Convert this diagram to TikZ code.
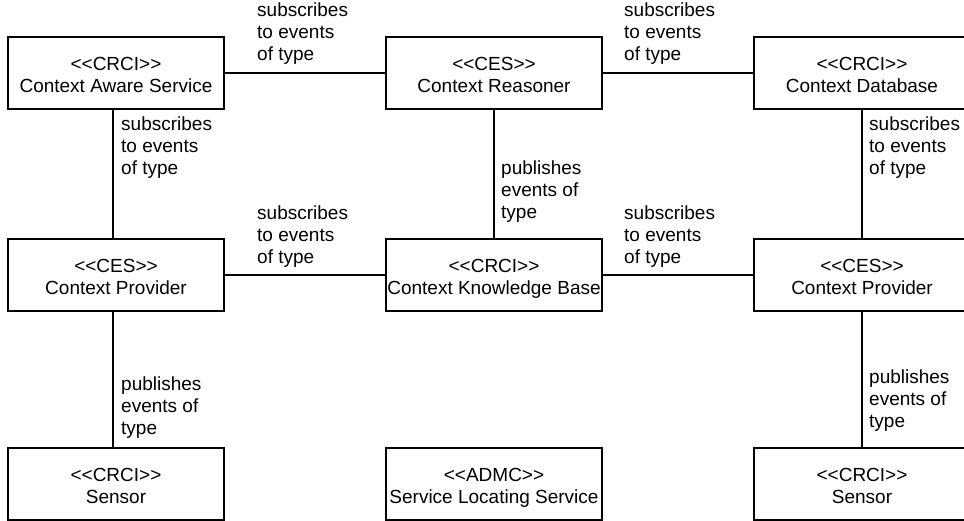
\documentclass[tikz,border=0pt]{standalone}
\usepackage{fontspec}
\setmainfont{Liberation Sans}
% struts that fix the first baseline and the last depth of a box's text
\newcommand\topstrut{\rule{0pt}{22pt}}
\newcommand\botstrut{\rule[-4.6pt]{0pt}{4.6pt}}
% stereotype guillemets written as doubled angle brackets
\newcommand\stereo[1]{<{}<#1>{}>}
\begin{document}
\begin{tikzpicture}[x=1pt,y=-1pt,
  every node/.style={font=\fontsize{19}{22}\selectfont},
  comp/.style={draw,line width=1.2pt,minimum width=216pt,minimum height=72pt,
    inner sep=0pt,align=center},
  rel/.style={anchor=north west,inner sep=0pt,align=left},
  link/.style={line width=1.2pt}]
\useasboundingbox (0,0) rectangle (964,520);

% components
\node[comp] (cas)  at (116,73)  {\topstrut\stereo{CRCI}\\Context Aware Service\botstrut};
\node[comp] (reas) at (494,73)  {\topstrut\stereo{CES}\\Context Reasoner\botstrut};
\node[comp] (cdb)  at (862,73)  {\topstrut\stereo{CRCI}\\Context Database\botstrut};
\node[comp] (cpl)  at (116,275) {\topstrut\stereo{CES}\\Context Provider\botstrut};
\node[comp] (ckb)  at (494,275) {\topstrut\stereo{CRCI}\\Context Knowledge Base\botstrut};
\node[comp] (cpr)  at (862,275) {\topstrut\stereo{CES}\\Context Provider\botstrut};
\node[comp] (snl)  at (116,484) {\topstrut\stereo{CRCI}\\Sensor\botstrut};
\node[comp] (sls)  at (494,484) {\topstrut\stereo{ADMC}\\Service Locating Service\botstrut};
\node[comp] (snr)  at (862,484) {\topstrut\stereo{CRCI}\\Sensor\botstrut};

% relations
\draw[link] (cas.east) -- (reas.west);
\draw[link] (reas.east) -- (cdb.west);
\draw[link] ([xshift=-3pt]cas.south) -- ([xshift=-3pt]cpl.north);
\draw[link] (reas.south) -- (ckb.north);
\draw[link] (cdb.south) -- (cpr.north);
\draw[link] (cpl.east) -- (ckb.west);
\draw[link] (ckb.east) -- (cpr.west);
\draw[link] ([xshift=-3pt]cpl.south) -- ([xshift=-3pt]snl.north);
\draw[link] (cpr.south) -- (snr.north);

% relation labels
\node[rel] (r1) at (257,3)   {subscribes\\to events\\of type};
\node[rel] (r2) at (624,3)   {subscribes\\to events\\of type};
\node[rel] (r3) at (121,117) {subscribes\\to events\\of type};
\node[rel] (r4) at (501,161) {publishes\\events of\\type};
\node[rel] (r5) at (869,117) {subscribes\\to events\\of type};
\node[rel] (r6) at (257,206) {subscribes\\to events\\of type};
\node[rel] (r7) at (624,206) {subscribes\\to events\\of type};
\node[rel] (r8) at (121,377) {publishes\\events of\\type};
\node[rel] (r9) at (869,370) {publishes\\events of\\type};
\end{tikzpicture}
\end{document}
